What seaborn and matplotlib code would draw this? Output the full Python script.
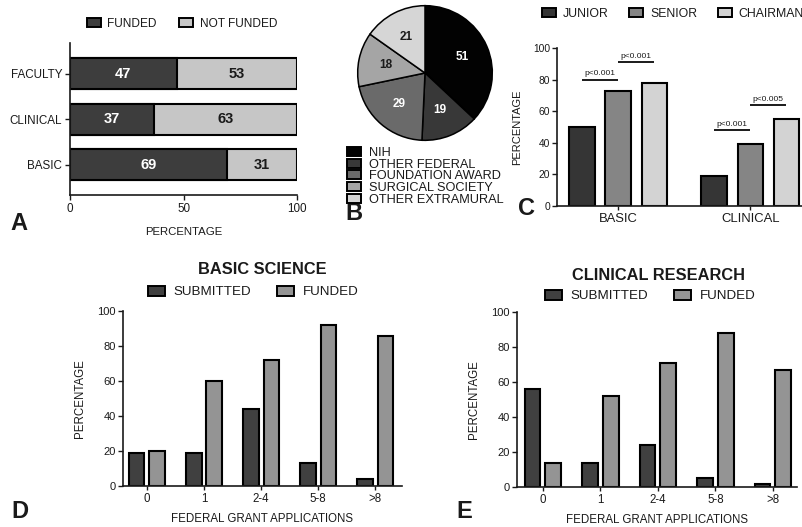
import numpy as np
import pandas as pd
import matplotlib
matplotlib.use("Agg")
import matplotlib.pyplot as plt
from matplotlib.patches import Patch
import seaborn as sns

# ---- data ---------------------------------------------------------------
# A: funding status by faculty type (percent)
a_groups = ["FACULTY", "CLINICAL", "BASIC"]
a_funded = [47, 37, 69]
a_not_funded = [53, 63, 31]

# B: sources of funding (counts)
b_sources = ["NIH", "OTHER FEDERAL", "FOUNDATION AWARD", "SURGICAL SOCIETY", "OTHER EXTRAMURAL"]
b_counts = [51, 19, 29, 18, 21]

# C: funded percentage by academic rank
c_fields = ["BASIC", "CLINICAL"]
c_ranks = ["JUNIOR", "SENIOR", "CHAIRMAN"]
c_junior = [50, 19]
c_senior = [73, 39]
c_chairman = [78, 55]
# (field, rank from, rank to, label, bracket height)
c_brackets = [
    ("BASIC", "JUNIOR", "SENIOR", "p<0.001", 80),
    ("BASIC", "SENIOR", "CHAIRMAN", "p<0.001", 91),
    ("CLINICAL", "JUNIOR", "SENIOR", "p<0.001", 48),
    ("CLINICAL", "SENIOR", "CHAIRMAN", "p<0.005", 64),
]

# D / E: federal grant applications
grant_bins = ["0", "1", "2-4", "5-8", ">8"]
d_submitted = [19, 19, 44, 13, 4]
d_funded = [20, 60, 72, 92, 86]
e_submitted = [56, 14, 24, 5, 2]
e_funded = [14, 52, 71, 88, 67]

# ---- style ---------------------------------------------------------------
sns.set_style("ticks")
plt.rcParams["font.family"] = ["Liberation Sans", "DejaVu Sans"]
TXT = "#1a1a1a"
plt.rcParams.update({
    "axes.edgecolor": TXT, "axes.linewidth": 1.2,
    "xtick.color": TXT, "ytick.color": TXT,
    "xtick.major.width": 1.0, "ytick.major.width": 1.0,
    "xtick.major.size": 3.5, "ytick.major.size": 3.5,
    "text.color": TXT, "axes.labelcolor": TXT,
})

W, H = 803, 527
fig = plt.figure(figsize=(W / 100, H / 100), dpi=100)


def fx(x):
    return x / W


def fy(y):
    return 1 - y / H


def axes_px(left, top, right, bottom):
    return fig.add_axes([fx(left), fy(bottom), (right - left) / W, (bottom - top) / H])


def legend_px(handles, labels, x, y, loc, fontsize, ncol, **kw):
    opts = dict(frameon=False, borderpad=0, borderaxespad=0, handlelength=1.15,
                handleheight=0.75, handletextpad=0.55, columnspacing=2.0)
    opts.update(kw)
    fig.legend(handles, labels, loc=loc, bbox_to_anchor=(fx(x), fy(y)),
               ncol=ncol, fontsize=fontsize, **opts)


def swatch(color):
    return Patch(facecolor=color, edgecolor="black", linewidth=1.4)


def panel_letter(x, y, letter):
    fig.text(fx(x), fy(y), letter, fontsize=17, fontweight="bold",
             ha="left", va="center")


EDGE = dict(edgecolor="black", linewidth=1.5)

# ---- A: stacked horizontal bars -----------------------------------------
A_DARK, A_LIGHT = "#3d3d3d", "#c6c6c6"
axA = axes_px(70, 43, 297, 195)
a_total = [f + n for f, n in zip(a_funded, a_not_funded)]
sns.barplot(x=a_total, y=a_groups, orient="h", color=A_LIGHT, saturation=1,
            width=0.68, ax=axA, **EDGE)
sns.barplot(x=a_funded, y=a_groups, orient="h", color=A_DARK, saturation=1,
            width=0.68, ax=axA, **EDGE)
for i, (f, n) in enumerate(zip(a_funded, a_not_funded)):
    axA.text(f / 2, i, str(f), ha="center", va="center", color="white",
             fontsize=10.5, fontweight="bold")
    axA.text(f + n / 2, i, str(n), ha="center", va="center", color=TXT,
             fontsize=10.5, fontweight="bold")
axA.set_xlim(0, 100)
axA.set_ylim(2.66, -0.68)
axA.set_xticks([0, 50, 100])
axA.tick_params(axis="both", labelsize=8.4, pad=2)
axA.set_xlabel("PERCENTAGE", fontsize=8.2, labelpad=9)
axA.set_ylabel("")
sns.despine(ax=axA)
legend_px([swatch(A_DARK), swatch(A_LIGHT)], ["FUNDED", "NOT FUNDED"],
          182, 24, "center", 8.6, 2, columnspacing=1.9)
panel_letter(10, 223, "A")

# ---- B: pie of funding sources ------------------------------------------
B_COLORS = ["#020202", "#383838", "#6a6a6a", "#a5a5a5", "#d6d6d6"]
B_TEXT = ["white", "white", "white", TXT, TXT]
axB = axes_px(357, 5, 493, 141)
wedges, _ = axB.pie(b_counts, colors=B_COLORS, startangle=90, counterclock=False,
                    wedgeprops=dict(edgecolor="black", linewidth=1.1))
for w, val, col in zip(wedges, b_counts, B_TEXT):
    ang = np.deg2rad((w.theta1 + w.theta2) / 2)
    axB.text(0.6 * np.cos(ang), 0.6 * np.sin(ang), str(val), ha="center",
             va="center", color=col, fontsize=8.5, fontweight="bold")
axB.set_xlim(-1.01, 1.01)
axB.set_ylim(-1.01, 1.01)
axB.set_aspect("equal")
legend_px([swatch(c) for c in B_COLORS], b_sources, 347, 147, "upper left", 9.2, 1,
          labelspacing=-0.03, handleheight=0.72, handlelength=1.1, handletextpad=0.6)
panel_letter(345, 214, "B")

# ---- C: funded percentage by rank ---------------------------------------
C_COLORS = ["#353535", "#858585", "#d3d3d3"]
axC = axes_px(557, 48, 803, 206)
c_df = pd.DataFrame({
    "field": c_fields * 3,
    "rank": [r for r in c_ranks for _ in c_fields],
    "pct": c_junior + c_senior + c_chairman,
})
sns.barplot(data=c_df, x="field", y="pct", hue="rank", order=c_fields,
            hue_order=c_ranks, palette=C_COLORS, saturation=1, width=0.82,
            gap=0.3, legend=False, ax=axC, **EDGE)
centers = {}
for rank, cont in zip(c_ranks, axC.containers):
    for field, bar in zip(c_fields, cont):
        centers[(field, rank)] = bar.get_x() + bar.get_width() / 2
for field, r0, r1, label, h in c_brackets:
    x0, x1 = centers[(field, r0)], centers[(field, r1)]
    axC.plot([x0, x1], [h, h], color=TXT, lw=1.4, solid_capstyle="butt", clip_on=False)
    axC.text((x0 + x1) / 2, h + 1.5, label, ha="center", va="bottom", fontsize=6)
axC.set_xlim(-0.462, 1.40)
axC.set_ylim(0, 100)
axC.set_yticks(range(0, 101, 20))
axC.tick_params(axis="y", labelsize=7.4, pad=1.5)
axC.tick_params(axis="x", labelsize=9.4, length=3, pad=2)
axC.set_xlabel("")
axC.set_ylabel("PERCENTAGE", fontsize=8, labelpad=8)
sns.despine(ax=axC)
legend_px([swatch(c) for c in C_COLORS], c_ranks, 542, 14, "center left", 8.8, 3,
          columnspacing=1.7, handlelength=1.15, handletextpad=0.55)
panel_letter(518, 208, "C")

# ---- D / E: grant applications ------------------------------------------
DE_COLORS = ["#404040", "#949494"]
DE_SERIES = ["SUBMITTED", "FUNDED"]


def grant_panel(box, submitted, funded, xlim, title, title_xy, legend_xy, letter_xy, letter):
    ax = axes_px(*box)
    df = pd.DataFrame({
        "bin": grant_bins * 2,
        "series": [s for s in DE_SERIES for _ in grant_bins],
        "pct": submitted + funded,
    })
    sns.barplot(data=df, x="bin", y="pct", hue="series", order=grant_bins,
                hue_order=DE_SERIES, palette=DE_COLORS, saturation=1, width=0.72,
                gap=0.24, legend=False, ax=ax, **EDGE)
    ax.set_xlim(*xlim)
    ax.set_ylim(0, 100)
    ax.set_yticks(range(0, 101, 20))
    ax.tick_params(axis="y", labelsize=8, pad=1.5)
    ax.tick_params(axis="x", labelsize=8.3, length=3, pad=2)
    ax.set_xlabel("FEDERAL GRANT APPLICATIONS", fontsize=8.3, labelpad=6)
    ax.set_ylabel("PERCENTAGE", fontsize=8.3, labelpad=8)
    sns.despine(ax=ax)
    fig.text(fx(title_xy[0]), fy(title_xy[1]), title, fontsize=11.8,
             fontweight="bold", ha="center", va="center")
    legend_px([swatch(c) for c in DE_COLORS], DE_SERIES, legend_xy[0], legend_xy[1],
              "center", 9.6, 2, columnspacing=1.9, handlelength=1.3,
              handletextpad=0.65)
    panel_letter(letter_xy[0], letter_xy[1], letter)
    return ax


grant_panel((123, 311, 402, 486), d_submitted, d_funded, (-0.42, 4.47),
            "BASIC SCIENCE", (262, 270), (253, 292), (11, 512), "D")
grant_panel((517, 312, 797, 487), e_submitted, e_funded, (-0.45, 4.42),
            "CLINICAL RESEARCH", (658, 275), (650, 296), (456, 511), "E")

fig.savefig("out.png", dpi=100)
